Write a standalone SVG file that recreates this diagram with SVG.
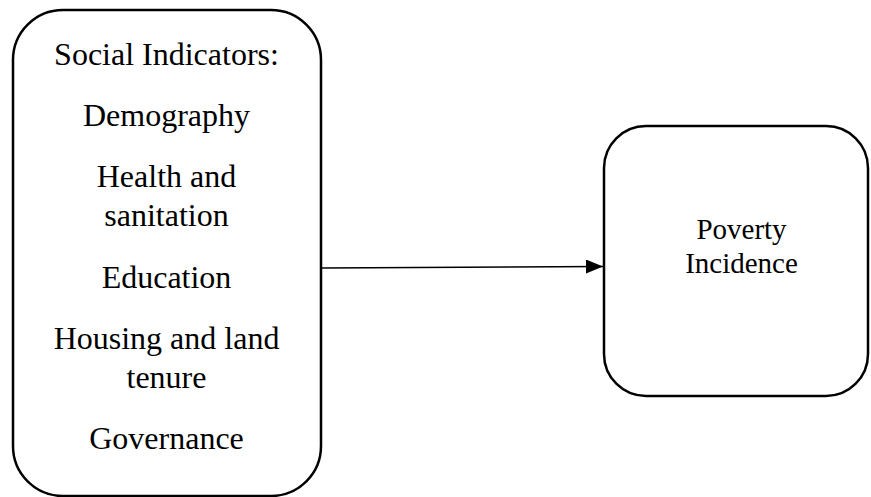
<svg xmlns="http://www.w3.org/2000/svg" width="871" height="497" viewBox="0 0 871 497">
<style>
.box{fill:#fff;stroke:#000;stroke-width:2.5}
.t{font-family:"Liberation Serif","Times New Roman","DejaVu Serif",serif;fill:#000;text-anchor:middle}
.l{font-size:32px}
.r{font-size:29px}
.conn{stroke:#000;stroke-width:1.3;fill:none}
</style>
<defs>
<marker id="ah" markerUnits="userSpaceOnUse" markerWidth="18" markerHeight="15" refX="17" refY="7" orient="auto">
<path d="M0,0 L17,7 L0,14 Z" fill="#000"/>
</marker>
</defs>
<rect width="871" height="497" fill="#fff"/>
<g id="social-indicators">
<rect class="box" x="13" y="10" width="308" height="486" rx="50" ry="50"/>
<text class="t l" x="166.5" y="65">Social Indicators:</text>
<text class="t l" x="166.5" y="126">Demography</text>
<text class="t l" x="166.5" y="187">Health and</text>
<text class="t l" x="166.5" y="226">sanitation</text>
<text class="t l" x="166.5" y="288">Education</text>
<text class="t l" x="166.5" y="349">Housing and land</text>
<text class="t l" x="166.5" y="388">tenure</text>
<text class="t l" x="166.5" y="449">Governance</text>
</g>
<g id="poverty-incidence">
<rect class="box" x="604" y="126" width="264" height="270" rx="42" ry="42"/>
<text class="t r" x="741.5" y="239">Poverty</text>
<text class="t r" x="741.5" y="273">Incidence</text>
</g>
<g id="connectors">
<line class="conn" x1="322" y1="268" x2="603" y2="266.5" marker-end="url(#ah)"/>
</g>
</svg>
